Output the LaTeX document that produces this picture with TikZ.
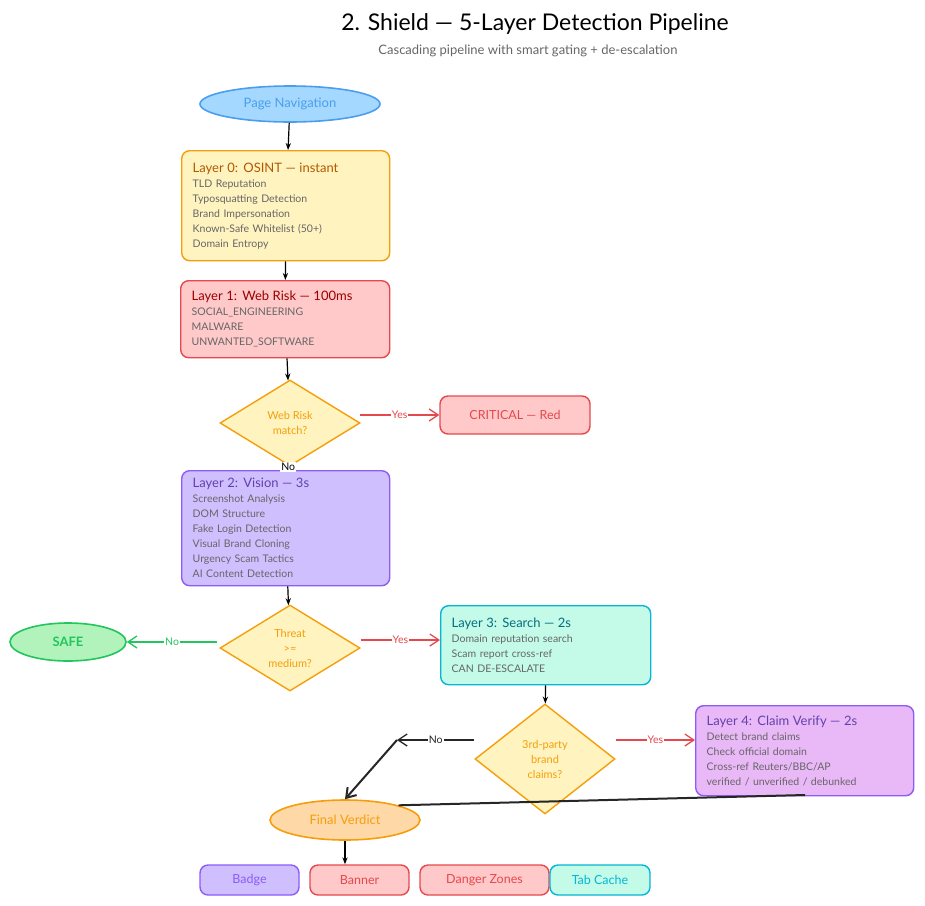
\documentclass[tikz,border=0pt]{standalone}
\usepackage{fontspec}
\setmainfont{Lato}
\usetikzlibrary{shapes.geometric,arrows.meta}
\definecolor{yf}{HTML}{FFF3BF}\definecolor{ys}{HTML}{F59E0B}
\definecolor{rf}{HTML}{FFC9C9}\definecolor{rs}{HTML}{E5484D}
\definecolor{pf}{HTML}{D0BFFF}\definecolor{ps}{HTML}{8B5CF6}
\definecolor{cf}{HTML}{C3FAE8}\definecolor{cs}{HTML}{06B6D4}
\definecolor{gf}{HTML}{B2F2BB}\definecolor{gs}{HTML}{22C55E}
\definecolor{bf}{HTML}{A5D8FF}\definecolor{bs}{HTML}{4A9EED}
\definecolor{mf}{HTML}{E9B8F7}\definecolor{of}{HTML}{FFD8A8}
\definecolor{txt}{HTML}{666666}
\newcommand{\laytitle}{\fontsize{13}{17}\selectfont}
\tikzset{
 box/.style={draw, line width=1.4pt, rounded corners=8pt, anchor=north west, inner sep=0pt},
 lay/.style={box, align=left, font=\fontsize{10.5}{15}\selectfont, text=txt, inner xsep=11pt, inner ysep=6pt},
 dia/.style={diamond, draw=ys, fill=yf, line width=1.4pt, text=ys, align=center, font=\fontsize{11}{15}\selectfont, inner sep=0pt},
 ell/.style={ellipse, line width=1.6pt, font=\fontsize{13}{15}\selectfont, inner sep=0pt},
 arr/.style={-{Stealth[length=7pt]}, line width=1.2pt},
 oarr/.style={-{Straight Barb[length=9pt,width=12pt]}, line width=1.3pt},
 lbl/.style={fill=white, inner sep=1pt, font=\fontsize{10.5}{12}\selectfont},
 btm/.style={box, minimum height=30pt, font=\fontsize{12.5}{14}\selectfont, anchor=center}
}
\begin{document}
\begin{tikzpicture}[x=1pt,y=-1pt]
\useasboundingbox (0,0) rectangle (925,905);
\node (title) at (535,24) {\fontsize{23}{26}\selectfont 2. Shield — 5-Layer Detection Pipeline};
\node[text=txt] (sub) at (528,51) {\fontsize{13}{15}\selectfont Cascading pipeline with smart gating + de-escalation};
\node[ell, draw=bs, fill=bf, text=bs, minimum width=180pt, minimum height=36pt] (nav) at (290,104) {Page Navigation};
\node[lay, draw=ys, fill=yf, minimum width=208pt, minimum height=110pt, text width=186pt] (l0) at (181,150)
 {{\laytitle\color{orange!70!black}Layer 0: OSINT — instant}\\TLD Reputation\\Typosquatting Detection\\Brand Impersonation\\Known-Safe Whitelist (50+)\\Domain Entropy};
\node[lay, draw=rs, fill=rf, minimum width=209pt, minimum height=77pt, text width=187pt] (l1) at (180,280)
 {{\laytitle\color{red!60!black}Layer 1: Web Risk — 100ms}\\SOCIAL\_ENGINEERING\\MALWARE\\UNWANTED\_SOFTWARE};
\node[dia, minimum width=140pt, minimum height=86pt] (d1) at (290,423) {Web Risk\\match?};
\node[box, draw=rs, fill=rf, text=rs, minimum width=150pt, minimum height=38pt, anchor=center, font=\fontsize{12.5}{14}\selectfont] (crit) at (515,415) {CRITICAL — Red};
\node[lay, draw=ps, fill=pf, minimum width=208pt, minimum height=115pt, text width=186pt] (l2) at (181,470)
 {{\laytitle\color{ps!70!black}Layer 2: Vision — 3s}\\Screenshot Analysis\\DOM Structure\\Fake Login Detection\\Visual Brand Cloning\\Urgency Scam Tactics\\AI Content Detection};
\node[dia, minimum width=140pt, minimum height=86pt] (d2) at (290,648) {Threat\\>=\\medium?};
\node[ell, draw=gs, fill=gf, text=gs, minimum width=116pt, minimum height=38pt] (safe) at (68,642) {\bfseries SAFE};
\node[lay, draw=cs, fill=cf, minimum width=210pt, minimum height=79pt, text width=188pt] (l3) at (440,605)
 {{\laytitle\color{cs!60!black}Layer 3: Search — 2s}\\Domain reputation search\\Scam report cross-ref\\CAN DE-ESCALATE};
\node[dia, minimum width=140pt, minimum height=110pt] (d3) at (545,759) {3rd-party\\brand\\claims?};
\node[lay, draw=ps, fill=mf, minimum width=218pt, minimum height=90pt, text width=196pt] (l4) at (695,705)
 {{\laytitle\color{ps!70!black}Layer 4: Claim Verify — 2s}\\Detect brand claims\\Check official domain\\Cross-ref Reuters/BBC/AP\\verified / unverified / debunked};
\node[ell, draw=ys, fill=of, text=ys, minimum width=150pt, minimum height=40pt] (fv) at (345,820) {Final Verdict};
\node[btm, draw=ps, fill=pf, text=ps, minimum width=99pt] (b1) at (249.5,880) {Badge};
\node[btm, draw=rs, fill=rf, text=rs, minimum width=99pt] (b2) at (359.5,880) {Banner};
\node[btm, draw=rs, fill=rf, text=rs, minimum width=129pt] (b3) at (484.5,880) {Danger Zones};
\node[btm, draw=cs, fill=cf, text=cs, minimum width=100pt] (b4) at (600,880) {Tab Cache};
\coordinate (bend) at (397,740);
\coordinate (d1y) at (360,415);
\draw[arr] (nav) -- (l0);
\draw[arr] (l0) -- (l1);
\draw[arr] (l1) -- (d1);
\draw[arr] (d1) -- node[pos=0.3,lbl]{No} (l2);
\draw[oarr, rs] (d1y) -- node[lbl, text=rs]{Yes} (crit.west);
\draw[arr] (l2) -- (d2);
\draw[oarr, gs] (d2.west) ++(-2,-6) -- node[lbl, text=gs]{No} (safe);
\draw[oarr, rs] (d2.east) ++(0,-8) -- node[lbl, text=rs]{Yes} (l3.west |- 0,640);
\draw[arr] (l3) -- (d3);
\draw[oarr, rs] (d3.east) ++(0,-19) -- node[lbl, text=rs]{Yes} (l4.west |- 0,740);
\draw[oarr, black!85] (d3.west) ++(0,-19) -- node[lbl]{No} (bend);
\draw[oarr, black!85, line width=2pt] (bend) -- (fv.north);
\draw[black!85, line width=2pt] (805,795) -- (fv.north east);
\draw[arr] (fv) -- (b2.north -| fv);
\end{tikzpicture}
\end{document}
